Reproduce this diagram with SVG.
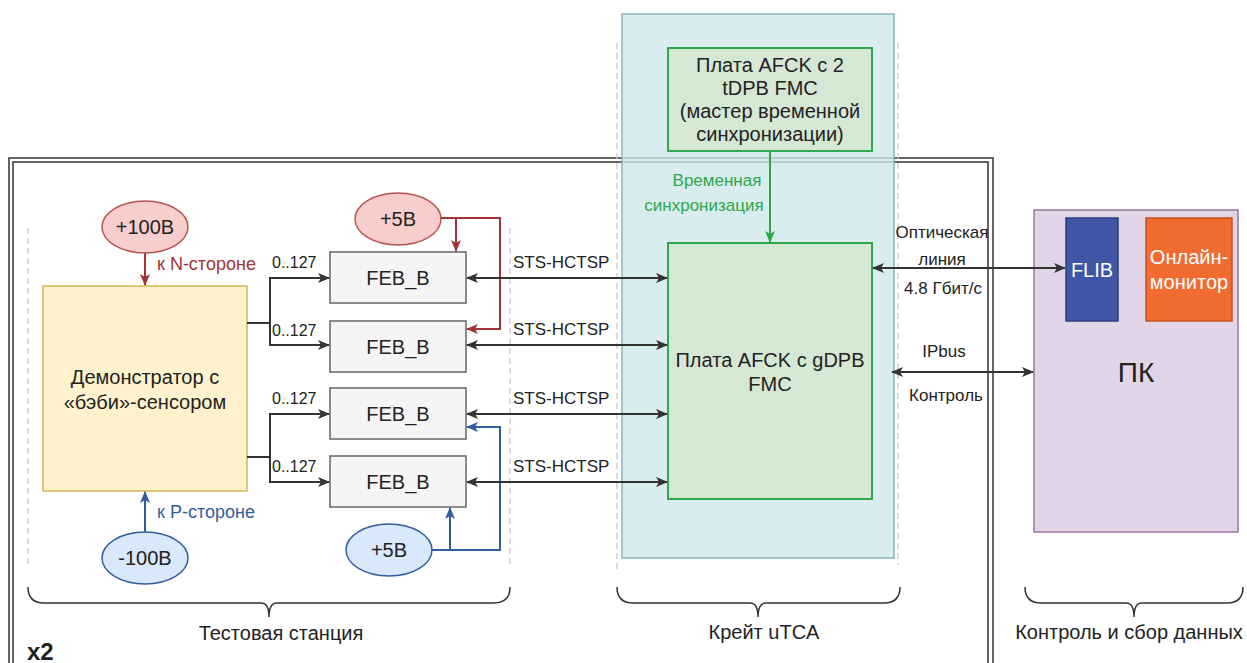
<svg xmlns="http://www.w3.org/2000/svg" width="1247" height="663" viewBox="0 0 1247 663">
<style>
text{font-family:"Liberation Sans",Arial,sans-serif;fill:#222}
.lbl{font-size:17px}
.sm{font-size:16px}
.box{font-size:20px}
.dash{stroke:#c8c8c8;stroke-width:1.3;stroke-dasharray:6,4;fill:none}
.blk{stroke:#333;stroke-width:2;fill:none}
.red{stroke:#a33236;stroke-width:2;fill:none}
.blu{stroke:#2f5d9e;stroke-width:2;fill:none}
.brace{stroke:#333;stroke-width:1.5;fill:none}
.feb{fill:#f5f5f5;stroke:#666;stroke-width:1.5}
</style>
<defs>
<marker id="ak" viewBox="0 0 12 10" refX="11" refY="5" markerWidth="12" markerHeight="10" markerUnits="userSpaceOnUse" orient="auto-start-reverse"><path d="M0,0 L12,5 L0,10 L3,5 Z" fill="#333"/></marker>
<marker id="ar" viewBox="0 0 12 10" refX="11" refY="5" markerWidth="12" markerHeight="10" markerUnits="userSpaceOnUse" orient="auto"><path d="M0,0 L12,5 L0,10 L3,5 Z" fill="#a33236"/></marker>
<marker id="ab" viewBox="0 0 12 10" refX="11" refY="5" markerWidth="12" markerHeight="10" markerUnits="userSpaceOnUse" orient="auto"><path d="M0,0 L12,5 L0,10 L3,5 Z" fill="#2f5d9e"/></marker>
<marker id="ag" viewBox="0 0 12 10" refX="11" refY="5" markerWidth="12" markerHeight="10" markerUnits="userSpaceOnUse" orient="auto"><path d="M0,0 L12,5 L0,10 L3,5 Z" fill="#2ea84a"/></marker>
</defs>
<rect width="1247" height="663" fill="#fff"/>

<g id="frame">
<path d="M9,663 V158 H993 V663" fill="none" stroke="#333" stroke-width="1.5"/>
<path d="M13,663 V162 H988 V663" fill="none" stroke="#333" stroke-width="1.5"/>
<text x="27" y="660" style="font-size:24px;font-weight:bold">x2</text>
</g>

<g id="crate">
<rect x="622" y="14" width="272" height="544" fill="#cfe7eb" fill-opacity="0.8" stroke="#86b5bc" stroke-width="1.5"/>
</g>

<g id="guides">
<line class="dash" x1="28" y1="228" x2="28" y2="567"/>
<line class="dash" x1="510" y1="228" x2="510" y2="567"/>
<line class="dash" x1="617" y1="43" x2="617" y2="570"/>
<line class="dash" x1="898" y1="43" x2="898" y2="565"/>
</g>

<g id="braces">
<path class="brace" d="M28,587 Q28,603 44,603 H261 Q269,603 269,617 Q269,603 277,603 H494 Q510,603 510,587"/>
<text x="281" y="640" text-anchor="middle" class="box">Тестовая станция</text>
<path class="brace" d="M617,587 Q617,603 633,603 H750 Q758,603 758,617 Q758,603 766,603 H884 Q900,603 900,587"/>
<text x="764" y="639" text-anchor="middle" class="box">Крейт uTCA</text>
<path class="brace" d="M1025,587 Q1025,603 1041,603 H1126 Q1134,603 1134,617 Q1134,603 1142,603 H1227 Q1243,603 1243,587"/>
<text x="1129" y="639" text-anchor="middle" class="box">Контроль и сбор данных</text>
</g>

<g id="p100">
<ellipse cx="145" cy="227" rx="43" ry="26" fill="#f8cecc" stroke="#b85450" stroke-width="1.5"/>
<text class="box" x="145" y="234" text-anchor="middle">+100В</text>
</g>
<g id="m100">
<ellipse cx="145" cy="558" rx="43" ry="26" fill="#dae8fc" stroke="#2f5d9e" stroke-width="1.5"/>
<text class="box" x="145" y="565" text-anchor="middle">-100В</text>
</g>
<g id="p5top">
<ellipse cx="398" cy="219" rx="43" ry="26" fill="#f8cecc" stroke="#b85450" stroke-width="1.5"/>
<text class="box" x="398" y="226" text-anchor="middle">+5В</text>
</g>
<g id="p5bot">
<ellipse cx="389" cy="550" rx="43" ry="26" fill="#dae8fc" stroke="#2f5d9e" stroke-width="1.5"/>
<text class="box" x="389" y="557" text-anchor="middle">+5В</text>
</g>
<g id="demo">
<rect x="43" y="286" width="204" height="205" fill="#fff2cc" stroke="#d6b656" stroke-width="1.5"/>
<text class="box" x="145" y="384" text-anchor="middle">Демонстратор с</text>
<text class="box" x="145" y="409" text-anchor="middle">«бэби»-сенсором</text>
</g>
<g id="feb1"><rect class="feb" x="330" y="252" width="136" height="51"/><text class="box" x="398" y="285" text-anchor="middle">FEB_B</text></g>
<g id="feb2"><rect class="feb" x="330" y="321" width="136" height="51"/><text class="box" x="398" y="354" text-anchor="middle">FEB_B</text></g>
<g id="feb3"><rect class="feb" x="330" y="388" width="136" height="51"/><text class="box" x="398" y="421" text-anchor="middle">FEB_B</text></g>
<g id="feb4"><rect class="feb" x="330" y="456" width="136" height="51"/><text class="box" x="398" y="489" text-anchor="middle">FEB_B</text></g>
<g id="tdpb">
<rect x="668" y="48" width="204" height="103" fill="#d5e8d4" stroke="#2ea84a" stroke-width="2"/>
<text class="box" x="770" y="72" text-anchor="middle">Плата AFCK с 2</text>
<text class="box" x="770" y="95" text-anchor="middle">tDPB FMC</text>
<text class="box" x="770" y="118" text-anchor="middle">(мастер временной</text>
<text class="box" x="770" y="141" text-anchor="middle">синхронизации)</text>
</g>
<g id="gdpb">
<rect x="668" y="243" width="204" height="256" fill="#d5e8d4" stroke="#2ea84a" stroke-width="2"/>
<text class="box" x="770" y="367" text-anchor="middle">Плата AFCK с gDPB</text>
<text class="box" x="770" y="391" text-anchor="middle">FMC</text>
</g>
<g id="pc">
<rect x="1034" y="210" width="204" height="322" fill="#e1d5e7" stroke="#9673a6" stroke-width="1.5"/>
<text x="1136" y="382" text-anchor="middle" style="font-size:28px">ПК</text>
</g>
<g id="flib">
<rect x="1066" y="218" width="52" height="103" fill="#3f55a5" stroke="#2f3f80" stroke-width="1.5"/>
<text class="box" x="1092" y="277" text-anchor="middle" style="fill:#fff">FLIB</text>
</g>
<g id="monitor">
<rect x="1146" y="218" width="86" height="103" fill="#f26b30" stroke="#c8501e" stroke-width="1.5"/>
<text class="box" x="1189" y="264" text-anchor="middle" style="fill:#fff">Онлайн-</text>
<text class="box" x="1189" y="289" text-anchor="middle" style="fill:#fff">монитор</text>
</g>

<g id="connectors">
<line class="red" x1="145" y1="253" x2="145" y2="285" marker-end="url(#ar)"/>
<line class="blu" x1="145" y1="532" x2="145" y2="492" marker-end="url(#ab)"/>
<path class="blk" d="M247,323 H270 V278 H329" marker-end="url(#ak)"/>
<path class="blk" d="M270,323 V345 H329" marker-end="url(#ak)"/>
<path class="blk" d="M247,457 H270 V414 H329" marker-end="url(#ak)"/>
<path class="blk" d="M270,457 V482 H329" marker-end="url(#ak)"/>
<path class="red" d="M441,218 H500 V329 H467" marker-end="url(#ar)"/>
<path class="red" d="M456,218 V251" marker-end="url(#ar)"/>
<path class="blu" d="M432,550 H500 V427 H467" marker-end="url(#ab)"/>
<path class="blu" d="M450,550 V508" marker-end="url(#ab)"/>
<line class="blk" x1="467" y1="278" x2="667" y2="278" marker-start="url(#ak)" marker-end="url(#ak)"/>
<line class="blk" x1="467" y1="345" x2="667" y2="345" marker-start="url(#ak)" marker-end="url(#ak)"/>
<line class="blk" x1="467" y1="414" x2="667" y2="414" marker-start="url(#ak)" marker-end="url(#ak)"/>
<line class="blk" x1="467" y1="482" x2="667" y2="482" marker-start="url(#ak)" marker-end="url(#ak)"/>
<line x1="770" y1="151" x2="770" y2="242" stroke="#2ea84a" stroke-width="2" marker-end="url(#ag)"/>
<line class="blk" x1="873" y1="268" x2="1065" y2="268" marker-start="url(#ak)" marker-end="url(#ak)"/>
<line class="blk" x1="892" y1="372" x2="1033" y2="372" marker-start="url(#ak)" marker-end="url(#ak)"/>
<text x="157" y="270" style="fill:#a33236;font-size:18px">к N-стороне</text>
<text x="157" y="518" style="fill:#2f5d9e;font-size:18px">к P-стороне</text>
<text class="sm" x="272" y="268">0..127</text>
<text class="sm" x="272" y="336">0..127</text>
<text class="sm" x="272" y="404">0..127</text>
<text class="sm" x="272" y="472">0..127</text>
<text class="lbl" x="513" y="268">STS-HCTSP</text>
<text class="lbl" x="513" y="335">STS-HCTSP</text>
<text class="lbl" x="513" y="404">STS-HCTSP</text>
<text class="lbl" x="513" y="472">STS-HCTSP</text>
<text class="lbl" x="717" y="186" text-anchor="middle" style="fill:#2ea84a">Временная</text>
<text class="lbl" x="704" y="211" text-anchor="middle" style="fill:#2ea84a">синхронизация</text>
<text class="lbl" x="942" y="238" text-anchor="middle">Оптическая</text>
<text class="lbl" x="942" y="265" text-anchor="middle">линия</text>
<text class="lbl" x="943" y="294" text-anchor="middle">4.8 Гбит/с</text>
<text class="lbl" x="944" y="357" text-anchor="middle">IPbus</text>
<text class="lbl" x="946" y="401" text-anchor="middle">Контроль</text>
</g>
</svg>
